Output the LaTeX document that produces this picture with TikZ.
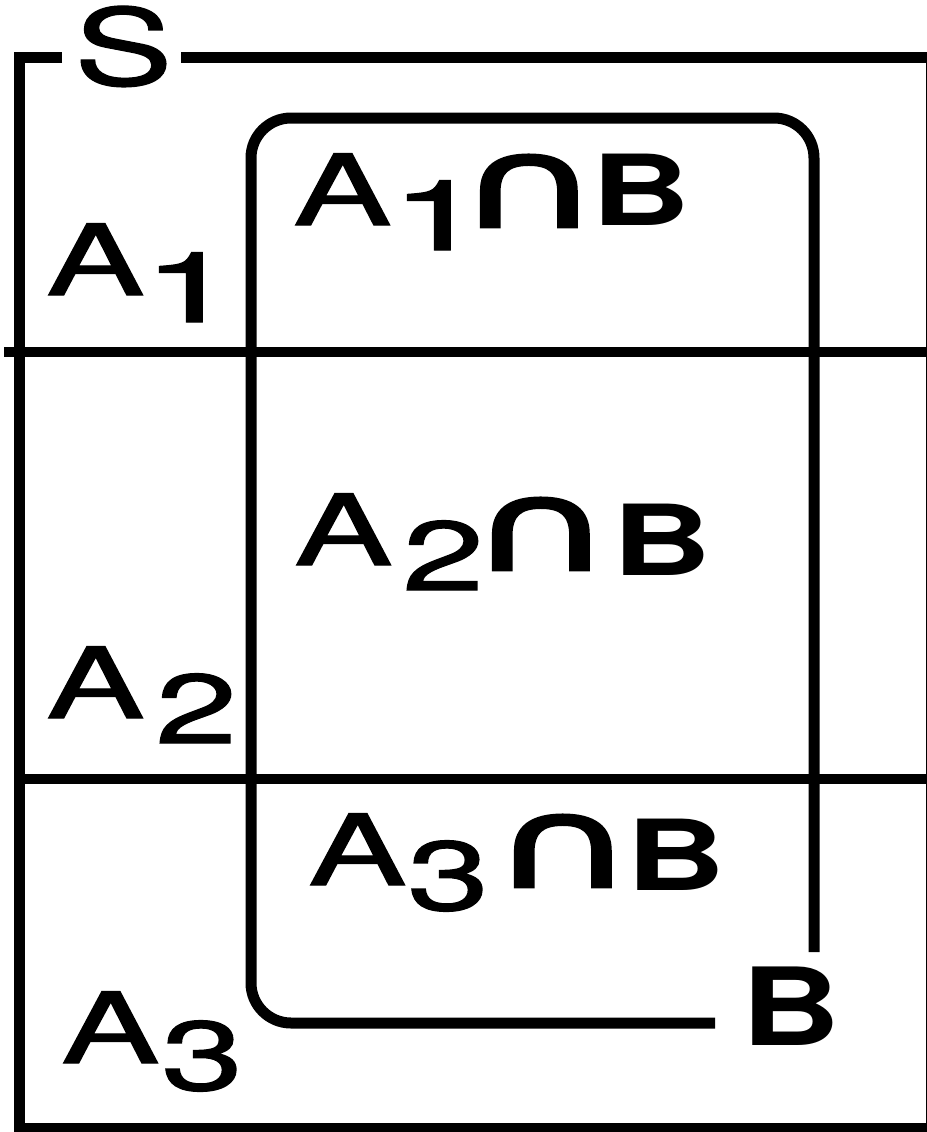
\documentclass[tikz,border=0pt]{standalone}
\usepackage{fontspec}
\setmainfont{TeX Gyre Heros}
\newfontfamily\medfont[FakeBold=1.2]{TeX Gyre Heros}
\newfontfamily\capfont[FakeBold=2]{DejaVu Sans}
\usepackage{graphicx}
% glyph placed at horizontal offset #1 px and dropped by #2 px from the label origin
\newcommand{\gl}[3]{\makebox[0pt][l]{\hspace{#1\dimexpr0.5pt\relax}\raisebox{-#2\dimexpr0.5pt\relax}{#3}}}
\newcommand{\ltr}[1]{\scalebox{1.5}[1]{\medfont #1}}
\newcommand{\onedigit}{\scalebox{1.75}[1]{\medfont 1}}
\newcommand{\bltr}[1]{\scalebox{1.4}[1]{\bfseries #1}}
\newcommand{\capsym}{\scalebox{1.65}[1.04]{\fontsize{60}{60}\selectfont\capfont ∩}}
\tikzset{
  frame/.style={line width=5.5pt, line join=miter},
  divider/.style={line width=5pt},
  setB/.style={line width=5.5pt, rounded corners=20pt},
  lbl/.style={inner sep=0pt, anchor=base west, font=\fontsize{49}{49}\selectfont}
}
\begin{document}
\begin{tikzpicture}[x=0.5pt,y=-0.5pt]
\useasboundingbox (0,0) rectangle (927,1132);
% labels
\node[lbl] (S) at (74,85) {\scalebox{1}[1.08]{\ltr{S}}};
\node[lbl] (A1) at (45,295) {\gl{0}{0}{\ltr{A}}\gl{96}{27}{\onedigit}};
\node[lbl] (A2) at (45,718) {\gl{0}{0}{\ltr{A}}\gl{109}{25}{\ltr{2}}};
\node[lbl] (A3) at (60,1063) {\gl{0}{0}{\ltr{A}}\gl{100}{27}{\ltr{3}}};
\node[lbl] (A1B) at (292,225) {\gl{0}{0}{\ltr{A}}\gl{97}{25}{\onedigit}\gl{163}{2}{\capsym}\gl{298}{0}{\bltr{B}}};
\node[lbl] (A2B) at (293,565) {\gl{0}{0}{\ltr{A}}\gl{108}{25}{\ltr{2}}\gl{174}{5}{\capsym}\gl{318}{10}{\bltr{B}}};
\node[lbl] (A3B) at (307,885) {\gl{0}{0}{\ltr{A}}\gl{99}{25}{\ltr{3}}\gl{182}{2}{\capsym}\gl{318}{5}{\bltr{B}}};
\node[lbl] (Blbl) at (741,1045) {\scalebox{1}[1.1]{\bltr{B}}};
% sample space S
\coordinate (s1) at (62,57);
\coordinate (s2) at (181,57);
\draw[frame] (s1) -- (19,57) -- (19,1128) -- (931,1128) -- (931,57) -- (s2);
% partition lines
\coordinate (p1l) at (4,352);
\coordinate (p1r) at (935,352);
\coordinate (p2l) at (19,779);
\coordinate (p2r) at (935,779);
\draw[divider] (p1l) -- (p1r);
\draw[divider] (p2l) -- (p2r);
% set B
\coordinate (b1) at (715,1023);
\coordinate (b2) at (814,952);
\draw[setB] (b1) -- (251,1023) -- (251,118) -- (814,118) -- (b2);
\end{tikzpicture}
\end{document}
